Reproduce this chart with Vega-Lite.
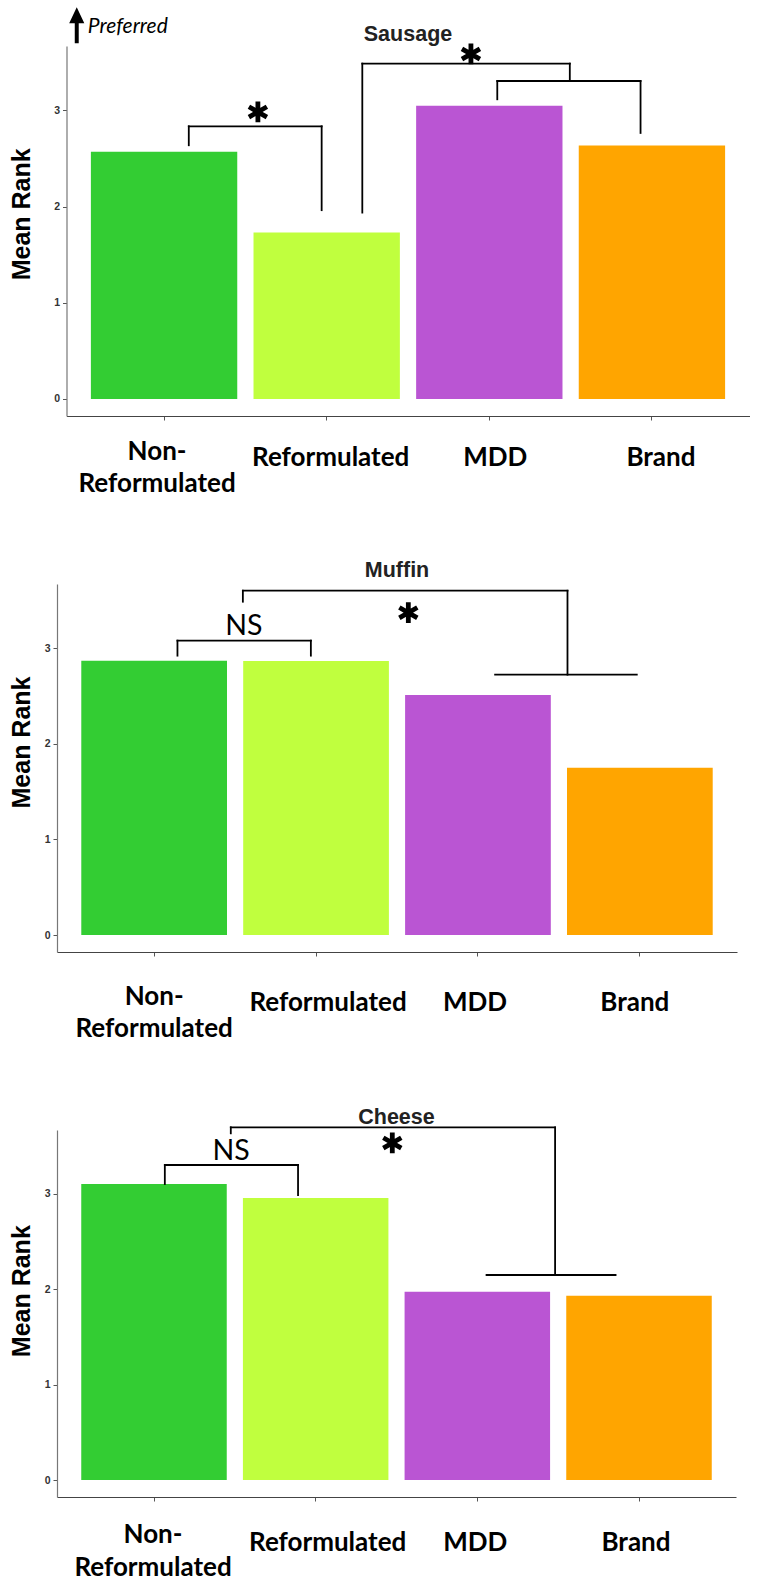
{
  "$schema": "https://vega.github.io/schema/vega-lite/v6.json",
  "padding": {"left": 9, "top": 7, "right": 0, "bottom": 0},
  "spacing": 64,
  "background": "white",
  "config": {
    "view": {"stroke": null},
    "axis": {"grid": false}
  },
  "datasets": {
    "sausage_bars": [
      {"product": "Non-Reformulated", "mean_rank": 2.57},
      {"product": "Reformulated", "mean_rank": 1.73},
      {"product": "MDD", "mean_rank": 3.05},
      {"product": "Brand", "mean_rank": 2.635}
    ],
    "sausage_brackets": [
      {"x": 0.152, "x2": 0.152, "y": 2.638, "y2": 2.835},
      {"x": 0.152, "x2": 0.969, "y": 2.835, "y2": 2.835},
      {"x": 0.969, "x2": 0.969, "y": 2.835, "y2": 1.963},
      {"x": 2.049, "x2": 2.049, "y": 3.116, "y2": 3.306},
      {"x": 2.049, "x2": 2.93, "y": 3.306, "y2": 3.306},
      {"x": 2.93, "x2": 2.93, "y": 3.306, "y2": 2.766},
      {"x": 1.219, "x2": 1.219, "y": 1.938, "y2": 3.487},
      {"x": 1.219, "x2": 2.495, "y": 3.487, "y2": 3.487},
      {"x": 2.495, "x2": 2.495, "y": 3.487, "y2": 3.306}
    ],
    "sausage_stars": [{"x": 0.577, "y": 2.984}, {"x": 1.887, "y": 3.587}],
    "sausage_notes": [{"x": -0.469, "y": 3.871, "text": "Preferred"}],
    "sausage_arrow": [{"x": -0.537, "y": 3.885}],
    "muffin_bars": [
      {"product": "Non-Reformulated", "mean_rank": 2.868},
      {"product": "Reformulated", "mean_rank": 2.865},
      {"product": "MDD", "mean_rank": 2.51},
      {"product": "Brand", "mean_rank": 1.75}
    ],
    "muffin_brackets": [
      {"x": 0.144, "x2": 0.144, "y": 2.921, "y2": 3.078},
      {"x": 0.144, "x2": 0.968, "y": 3.078, "y2": 3.078},
      {"x": 0.968, "x2": 0.968, "y": 3.078, "y2": 2.921},
      {"x": 0.548, "x2": 0.548, "y": 3.485, "y2": 3.6},
      {"x": 0.548, "x2": 2.553, "y": 3.6, "y2": 3.6},
      {"x": 2.553, "x2": 2.553, "y": 3.6, "y2": 2.722},
      {"x": 2.106, "x2": 2.981, "y": 2.722, "y2": 2.722}
    ],
    "muffin_stars": [{"x": 1.57, "y": 3.37}],
    "muffin_notes": [{"x": 0.554, "y": 3.236, "text": "NS"}],
    "cheese_bars": [
      {"product": "Non-Reformulated", "mean_rank": 3.104},
      {"product": "Reformulated", "mean_rank": 2.957},
      {"product": "MDD", "mean_rank": 1.975},
      {"product": "Brand", "mean_rank": 1.933}
    ],
    "cheese_brackets": [
      {"x": 0.067, "x2": 0.067, "y": 3.104, "y2": 3.303},
      {"x": 0.067, "x2": 0.891, "y": 3.303, "y2": 3.303},
      {"x": 0.891, "x2": 0.891, "y": 3.303, "y2": 2.988},
      {"x": 0.475, "x2": 0.475, "y": 3.635, "y2": 3.698},
      {"x": 0.475, "x2": 2.481, "y": 3.698, "y2": 3.698},
      {"x": 2.481, "x2": 2.481, "y": 3.698, "y2": 2.15},
      {"x": 2.057, "x2": 2.855, "y": 2.15, "y2": 2.15}
    ],
    "cheese_stars": [{"x": 1.474, "y": 3.534}],
    "cheese_notes": [{"x": 0.477, "y": 3.449, "text": "NS"}]
  },
  "vconcat": [
    {
      "width": 692.5,
      "height": 370,
      "title": {"text": "Sausage", "frame": "group", "anchor": "middle", "baseline": "alphabetic", "offset": -55, "dx": 4.75, "font": "Liberation Sans", "fontSize": 21.5, "fontWeight": "bold", "color": "#222222"},
      "resolve": {"scale": {"x": "independent"}},
      "layer": [
        {
          "data": {"name": "sausage_bars"},
          "mark": {"type": "bar"},
          "encoding": {
            "x": {"field": "product", "type": "nominal", "sort": ["Non-Reformulated", "Reformulated", "MDD", "Brand"],
              "scale": {"paddingInner": 0.1, "paddingOuter": 0.15, "range": [9.5, 692.5]},
              "axis": {"title": null, "labelAngle": 0, "labelFont": "Lato", "labelFontSize": 26, "labelFontWeight": "bold", "labelColor": "black",
                "labelExpr": "datum.value == 'Non-Reformulated' ? ['Non-', 'Reformulated'] : datum.value",
                "labelBaseline": "top", "labelLineHeight": 32, "labelLimit": 0, "labelOverlap": false, "labelFlush": false,
                "labelPadding": {"condition": {"test": "datum.value == 'Non-Reformulated'", "value": 18}, "value": 24.7},
                "labelOffset": {"condition": [
                  {"test": "datum.value == 'Non-Reformulated'", "value": -7},
                  {"test": "datum.value == 'Reformulated'", "value": 4},
                  {"test": "datum.value == 'MDD'", "value": 6}], "value": 9},
                "tickSize": 4, "tickColor": "#555555", "domainColor": "#444444", "domainWidth": 1.2}},
            "y": {"field": "mean_rank", "type": "quantitative", "title": "Mean Rank", "scale": {"domain": [-0.177, 3.67], "nice": false},
              "axis": {"title": "Mean Rank", "offset": -9.5, "titleFont": "Liberation Sans", "titleFontSize": 25, "titleFontWeight": "bold", "titleColor": "black", "titlePadding": 18.85, "titleY": 167.8,
                "values": [0, 1, 2, 3], "format": "d", "labelFont": "Liberation Sans", "labelFontSize": 10.5, "labelFontWeight": "bold", "labelColor": "#333333", "labelPadding": 3,
                "tickSize": 4, "tickColor": "#555555", "domainColor": "#777777", "domainWidth": 1.2}},
            "y2": {"datum": 0},
            "color": {"field": "product", "type": "nominal", "legend": null,
              "scale": {"domain": ["Non-Reformulated", "Reformulated", "MDD", "Brand"], "range": ["#33CD33", "#C0FF3E", "#BA55D3", "#FFA500"]}}
          }
        },
        {
          "data": {"name": "sausage_brackets"},
          "mark": {"type": "rule", "color": "black", "strokeWidth": 1.8, "strokeCap": "square"},
          "encoding": {
            "x": {"field": "x", "type": "quantitative", "scale": {"domain": [-0.6, 3.6], "range": [9.5, 692.5], "nice": false, "zero": false}, "axis": null},
            "x2": {"field": "x2"},
            "y": {"field": "y", "type": "quantitative", "title": "Mean Rank", "scale": {"domain": [-0.177, 3.67], "nice": false}},
            "y2": {"field": "y2"}
          }
        },
        {
          "data": {"name": "sausage_stars"},
          "mark": {"type": "point", "shape": "M0,-1L0,1M-0.866,-0.5L0.866,0.5M-0.866,0.5L0.866,-0.5", "size": 430, "filled": false, "stroke": "black", "strokeWidth": 4.8, "opacity": 1},
          "encoding": {
            "x": {"field": "x", "type": "quantitative", "scale": {"domain": [-0.6, 3.6], "range": [9.5, 692.5], "nice": false, "zero": false}, "axis": null},
            "y": {"field": "y", "type": "quantitative", "title": "Mean Rank", "scale": {"domain": [-0.177, 3.67], "nice": false}}
          }
        },
        {
          "data": {"name": "sausage_arrow"},
          "mark": {"type": "point", "shape": "M0,-1L0.42,-0.12L0.11,-0.12L0.11,1L-0.11,1L-0.11,-0.12L-0.42,-0.12Z", "size": 1296, "filled": true, "color": "black", "opacity": 1},
          "encoding": {
            "x": {"field": "x", "type": "quantitative", "scale": {"domain": [-0.6, 3.6], "range": [9.5, 692.5], "nice": false, "zero": false}, "axis": null},
            "y": {"field": "y", "type": "quantitative", "title": "Mean Rank", "scale": {"domain": [-0.177, 3.67], "nice": false}}
          }
        },
        {
          "data": {"name": "sausage_notes"},
          "mark": {"type": "text", "font": "Lato", "fontSize": 21, "fontStyle": "italic", "align": "left", "baseline": "middle", "color": "black"},
          "encoding": {
            "x": {"field": "x", "type": "quantitative", "scale": {"domain": [-0.6, 3.6], "range": [9.5, 692.5], "nice": false, "zero": false}, "axis": null},
            "y": {"field": "y", "type": "quantitative", "title": "Mean Rank", "scale": {"domain": [-0.177, 3.67], "nice": false}},
            "text": {"field": "text"}
          }
        }
      ]
    },
    {
      "width": 680,
      "height": 368,
      "title": {"text": "Muffin", "frame": "group", "anchor": "middle", "baseline": "alphabetic", "offset": -14.5, "font": "Liberation Sans", "fontSize": 21.5, "fontWeight": "bold", "color": "#222222"},
      "resolve": {"scale": {"x": "independent"}},
      "layer": [
        {
          "data": {"name": "muffin_bars"},
          "mark": {"type": "bar"},
          "encoding": {
            "x": {"field": "product", "type": "nominal", "sort": ["Non-Reformulated", "Reformulated", "MDD", "Brand"],
              "scale": {"paddingInner": 0.1, "paddingOuter": 0.15},
              "axis": {"title": null, "labelAngle": 0, "labelFont": "Lato", "labelFontSize": 26, "labelFontWeight": "bold", "labelColor": "black",
                "labelExpr": "datum.value == 'Non-Reformulated' ? ['Non-', 'Reformulated'] : datum.value",
                "labelBaseline": "top", "labelLineHeight": 32, "labelLimit": 0, "labelOverlap": false, "labelFlush": false,
                "labelPadding": {"condition": {"test": "datum.value == 'Non-Reformulated'", "value": 27.3}, "value": 33.9},
                "labelOffset": {"condition": [
                  {"test": "datum.value == 'Non-Reformulated'", "value": 0},
                  {"test": "datum.value == 'Reformulated'", "value": 12},
                  {"test": "datum.value == 'MDD'", "value": -3}], "value": -5},
                "tickSize": 4, "tickColor": "#555555", "domainColor": "#444444", "domainWidth": 1.2}},
            "y": {"field": "mean_rank", "type": "quantitative", "title": "Mean Rank", "scale": {"domain": [-0.177, 3.67], "nice": false},
              "axis": {"title": "Mean Rank", "titleFont": "Liberation Sans", "titleFontSize": 25, "titleFontWeight": "bold", "titleColor": "black", "titlePadding": 9.35, "titleY": 158,
                "values": [0, 1, 2, 3], "format": "d", "labelFont": "Liberation Sans", "labelFontSize": 10.5, "labelFontWeight": "bold", "labelColor": "#333333", "labelPadding": 3,
                "tickSize": 4, "tickColor": "#555555", "domainColor": "#777777", "domainWidth": 1.2}},
            "y2": {"datum": 0},
            "color": {"field": "product", "type": "nominal", "legend": null,
              "scale": {"domain": ["Non-Reformulated", "Reformulated", "MDD", "Brand"], "range": ["#33CD33", "#C0FF3E", "#BA55D3", "#FFA500"]}}
          }
        },
        {
          "data": {"name": "muffin_brackets"},
          "mark": {"type": "rule", "color": "black", "strokeWidth": 1.8, "strokeCap": "square"},
          "encoding": {
            "x": {"field": "x", "type": "quantitative", "scale": {"domain": [-0.6, 3.6], "nice": false, "zero": false}, "axis": null},
            "x2": {"field": "x2"},
            "y": {"field": "y", "type": "quantitative", "title": "Mean Rank", "scale": {"domain": [-0.177, 3.67], "nice": false}},
            "y2": {"field": "y2"}
          }
        },
        {
          "data": {"name": "muffin_stars"},
          "mark": {"type": "point", "shape": "M0,-1L0,1M-0.866,-0.5L0.866,0.5M-0.866,0.5L0.866,-0.5", "size": 430, "filled": false, "stroke": "black", "strokeWidth": 4.8, "opacity": 1},
          "encoding": {
            "x": {"field": "x", "type": "quantitative", "scale": {"domain": [-0.6, 3.6], "nice": false, "zero": false}, "axis": null},
            "y": {"field": "y", "type": "quantitative", "title": "Mean Rank", "scale": {"domain": [-0.177, 3.67], "nice": false}}
          }
        },
        {
          "data": {"name": "muffin_notes"},
          "mark": {"type": "text", "font": "Lato", "fontSize": 28.5, "align": "center", "baseline": "middle", "color": "black"},
          "encoding": {
            "x": {"field": "x", "type": "quantitative", "scale": {"domain": [-0.6, 3.6], "nice": false, "zero": false}, "axis": null},
            "y": {"field": "y", "type": "quantitative", "title": "Mean Rank", "scale": {"domain": [-0.177, 3.67], "nice": false}},
            "text": {"field": "text"}
          }
        }
      ]
    },
    {
      "width": 679,
      "height": 367,
      "title": {"text": "Cheese", "frame": "group", "anchor": "middle", "baseline": "alphabetic", "offset": -22, "font": "Liberation Sans", "fontSize": 21.5, "fontWeight": "bold", "color": "#222222"},
      "resolve": {"scale": {"x": "independent"}},
      "layer": [
        {
          "data": {"name": "cheese_bars"},
          "mark": {"type": "bar"},
          "encoding": {
            "x": {"field": "product", "type": "nominal", "sort": ["Non-Reformulated", "Reformulated", "MDD", "Brand"],
              "scale": {"paddingInner": 0.1, "paddingOuter": 0.15},
              "axis": {"title": null, "labelAngle": 0, "labelFont": "Lato", "labelFontSize": 26, "labelFontWeight": "bold", "labelColor": "black",
                "labelExpr": "datum.value == 'Non-Reformulated' ? ['Non-', 'Reformulated'] : datum.value",
                "labelBaseline": "top", "labelLineHeight": 33, "labelLimit": 0, "labelOverlap": false, "labelFlush": false,
                "labelPadding": {"condition": {"test": "datum.value == 'Non-Reformulated'", "value": 20}, "value": 28},
                "labelOffset": {"condition": [
                  {"test": "datum.value == 'Non-Reformulated'", "value": -1},
                  {"test": "datum.value == 'Reformulated'", "value": 12},
                  {"test": "datum.value == 'MDD'", "value": -2}], "value": -3},
                "tickSize": 4, "tickColor": "#555555", "domainColor": "#444444", "domainWidth": 1.2}},
            "y": {"field": "mean_rank", "type": "quantitative", "title": "Mean Rank", "scale": {"domain": [-0.177, 3.67], "nice": false},
              "axis": {"title": "Mean Rank", "titleFont": "Liberation Sans", "titleFontSize": 25, "titleFontWeight": "bold", "titleColor": "black", "titlePadding": 9.35, "titleY": 160.7,
                "values": [0, 1, 2, 3], "format": "d", "labelFont": "Liberation Sans", "labelFontSize": 10.5, "labelFontWeight": "bold", "labelColor": "#333333", "labelPadding": 3,
                "tickSize": 4, "tickColor": "#555555", "domainColor": "#777777", "domainWidth": 1.2}},
            "y2": {"datum": 0},
            "color": {"field": "product", "type": "nominal", "legend": null,
              "scale": {"domain": ["Non-Reformulated", "Reformulated", "MDD", "Brand"], "range": ["#33CD33", "#C0FF3E", "#BA55D3", "#FFA500"]}}
          }
        },
        {
          "data": {"name": "cheese_brackets"},
          "mark": {"type": "rule", "color": "black", "strokeWidth": 1.8, "strokeCap": "square"},
          "encoding": {
            "x": {"field": "x", "type": "quantitative", "scale": {"domain": [-0.6, 3.6], "nice": false, "zero": false}, "axis": null},
            "x2": {"field": "x2"},
            "y": {"field": "y", "type": "quantitative", "title": "Mean Rank", "scale": {"domain": [-0.177, 3.67], "nice": false}},
            "y2": {"field": "y2"}
          }
        },
        {
          "data": {"name": "cheese_stars"},
          "mark": {"type": "point", "shape": "M0,-1L0,1M-0.866,-0.5L0.866,0.5M-0.866,0.5L0.866,-0.5", "size": 430, "filled": false, "stroke": "black", "strokeWidth": 4.8, "opacity": 1},
          "encoding": {
            "x": {"field": "x", "type": "quantitative", "scale": {"domain": [-0.6, 3.6], "nice": false, "zero": false}, "axis": null},
            "y": {"field": "y", "type": "quantitative", "title": "Mean Rank", "scale": {"domain": [-0.177, 3.67], "nice": false}}
          }
        },
        {
          "data": {"name": "cheese_notes"},
          "mark": {"type": "text", "font": "Lato", "fontSize": 28.5, "align": "center", "baseline": "middle", "color": "black"},
          "encoding": {
            "x": {"field": "x", "type": "quantitative", "scale": {"domain": [-0.6, 3.6], "nice": false, "zero": false}, "axis": null},
            "y": {"field": "y", "type": "quantitative", "title": "Mean Rank", "scale": {"domain": [-0.177, 3.67], "nice": false}},
            "text": {"field": "text"}
          }
        }
      ]
    }
  ]
}
